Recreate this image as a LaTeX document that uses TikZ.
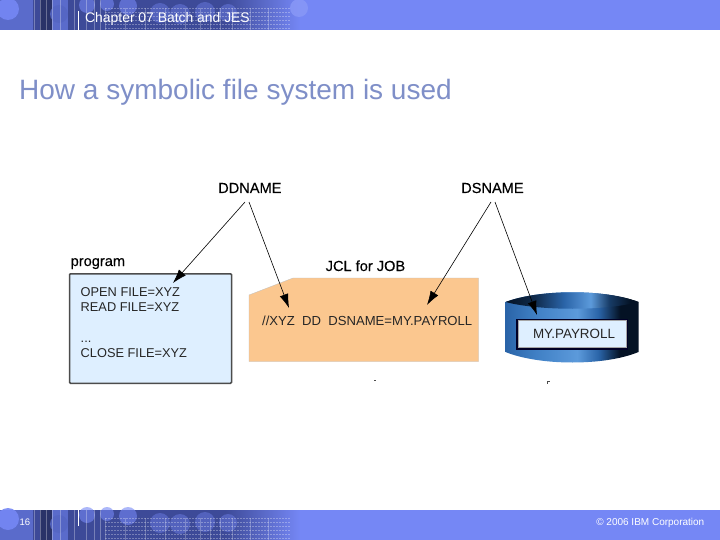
\documentclass[tikz,border=0pt]{standalone}
\usepackage{fontspec}
\setmainfont{Liberation Sans}
\newfontfamily\lblfont[FakeBold=0.2]{Liberation Sans}
\usetikzlibrary{arrows.meta}
\definecolor{barblue}{HTML}{7587F5}
\definecolor{bardark}{HTML}{3D4A98}
\definecolor{barmid}{HTML}{5566C4}
\definecolor{bardeep}{HTML}{2A3268}
\definecolor{titleblue}{HTML}{7F8FC8}
\definecolor{progfill}{HTML}{DEEFFF}
\definecolor{jclfill}{HTML}{FBC78F}
\definecolor{cyl}{HTML}{2A64A8}
\definecolor{cylmid}{HTML}{3F7FC4}
\definecolor{cyllight}{HTML}{5C9ADB}
\definecolor{cyldark}{HTML}{041224}
\pgfdeclarehorizontalshading{cylbody}{100bp}{color(0bp)=(cyl); color(25bp)=(cyl); color(36bp)=(cylmid); color(52bp)=(cyllight); color(60bp)=(cyl); color(68bp)=(cyldark); color(75bp)=(cyldark); color(100bp)=(cyldark)}
\pgfdeclarehorizontalshading{cyltop}{100bp}{color(0bp)=(cyldark); color(25bp)=(cyldark); color(36bp)=(cyldark!70!cyl); color(47bp)=(cyl); color(57bp)=(cyllight); color(64bp)=(cyl!50!cyldark); color(72bp)=(cyldark); color(100bp)=(cyldark)}
\tikzset{
  body/.style={inner sep=0pt,anchor=base west,font=\fontsize{12.8}{12.8}\selectfont,text=black!85},
  heading/.style={inner sep=0pt,anchor=base west,font=\lblfont\fontsize{14.6}{14.6}\selectfont},
  callout/.style={-{Latex[length=14pt,width=9pt]},line width=0.6pt,black},
  bartext/.style={inner sep=0pt,anchor=base west,text=white}
}
\newcommand{\bandart}[1]{%
 \begin{scope}[shift={(0,#1)}]
  \fill[barmid!85!barblue] (0,0) rectangle (100,30);
  \fill[bardark] (100,0) rectangle (225,30);
  \fill[left color=bardark,right color=barblue] (225,0) rectangle (300,30);
  \fill[bardark] (33,0) rectangle (52,30);
  \fill[bardeep] (40,0) rectangle (52,30);
  \fill[bardark] (68,0) rectangle (100,30);
  \fill[barmid,opacity=.9] (59,14) circle (9);
  \fill[barblue,opacity=.9] (8,9) circle (11);
  \fill[barblue,opacity=.6] (87,5) circle (8);
  \fill[barblue,opacity=.6] (107,4) circle (7);
  \fill[barblue,opacity=.6] (128,6) circle (9);
  \fill[barblue,opacity=.4] (160,13) circle (10);
  \fill[barblue,opacity=.4] (180,14) circle (10);
  \fill[barblue,opacity=.4] (205,12) circle (10);
  \fill[barblue,opacity=.4] (228,13) circle (9);
  \foreach \gx in {34,40,46,52,60,74,86,94,100} {\draw[white,opacity=.3,line width=.4pt] (\gx,0) -- (\gx,30);}
  \foreach \gx in {105,125,145,165,185,200,210,220,232,250,268} {\draw[white,opacity=.25,line width=.3pt] (\gx,8) -- (\gx,30);}
  \foreach \gy in {8,12,16,20,24,28} {\draw[white,opacity=.3,line width=.3pt,dash pattern=on 2pt off 1pt] (105,\gy) -- (290,\gy);}
 \end{scope}}
\begin{document}
\begin{tikzpicture}[x=1pt,y=-1pt]
\useasboundingbox (0,0) rectangle (720,540);
\fill[white] (0,0) rectangle (720,540);
% bands
\fill[barblue] (0,0) rectangle (720,30);
\fill[barblue] (0,510) rectangle (720,540);
\bandart{0}
\bandart{510}
\fill[barblue!85!white,opacity=.8] (299,8) circle (9);
\draw[white,line width=.7pt] (78.5,11) -- (78.5,30);
\draw[white,line width=.7pt] (78.5,510) -- (78.5,526);
\node[bartext,font=\fontsize{13.9}{13.9}\selectfont] (chap) at (85,23) {Chapter 07 Batch and JES};
\node[bartext,font=\fontsize{9.5}{9.5}\selectfont] (page) at (19.5,525) {16};
\node[bartext,font=\fontsize{10}{10}\selectfont,anchor=base east] (copy) at (704.5,525) {© 2006 IBM Corporation};
% title
\node[inner sep=0pt,anchor=base west,font=\fontsize{28}{28}\selectfont,text=titleblue] (title) at (19,99.7) {How a symbolic file system is used};
% program
\node[heading] (proglbl) at (70.5,266) {program};
\node[draw=black!70,line width=1.5pt,rounded corners=1pt,fill=progfill,minimum width=162pt,minimum height=109.5pt,inner sep=0pt] (prog) at (150.5,328.5) {};
\node[body] (p1) at (80.5,296) {OPEN FILE=XYZ};
\node[body] (p2) at (80.5,311) {READ FILE=XYZ};
\node[body] (p3) at (80.5,342) {...};
\node[body] (p4) at (80.5,357) {CLOSE FILE=XYZ};
% JCL
\node[heading] (jcllbl) at (325.5,271) {JCL for JOB};
\fill[jclfill,draw=black!25,line width=.3pt] (249,295) -- (293,278) -- (478.5,278) -- (478.5,361.5) -- (249,361.5) -- cycle;
\node[body,font=\fontsize{13.1}{13.1}\selectfont] (jcl) at (262,325) {//XYZ\ \ DD\ \ DSNAME=MY.PAYROLL};
% cylinder
\shade[shading=cylbody]
  (505.5,302) .. controls (540,289) and (605,289) .. (638.5,302) -- (638.5,352)
  .. controls (605,366) and (540,366) .. (505.5,352) -- cycle;
\shade[shading=cyltop]
  (505.5,302) .. controls (540,289) and (605,289) .. (638.5,302)
  .. controls (605,311) and (540,311) .. (505.5,302) -- cycle;
\fill[black!85!blue] (516,318.5) rectangle (628,349.5);
\node[draw=black!35,line width=.6pt,fill=progfill,minimum width=108pt,minimum height=27pt,inner sep=0pt] (frame) at (572.5,334) {};
\node[inner sep=0pt,anchor=base,font=\fontsize{13.4}{13.4}\selectfont,text=black!85] (mp) at (574,338) {MY.PAYROLL};
% labels with arrows
\node[heading] (dd) at (218,193) {DDNAME};
\node[heading] (ds) at (461,193) {DSNAME};
\coordinate (a1) at (245,202);
\coordinate (a2) at (249,202);
\coordinate (a3) at (491,202);
\coordinate (a4) at (495,202);
\coordinate (t1) at (173,283);
\coordinate (t2) at (289,308);
\coordinate (t3) at (427,305);
\coordinate (t4) at (537,315);
\draw[callout] (a1) -- (t1);
\draw[callout] (a2) -- (t2);
\draw[callout] (a3) -- (t3);
\draw[callout] (a4) -- (t4);
% specks
\fill[black!70] (374,380) rectangle (375.5,381);
\fill[black!70] (547,380.5) rectangle (548,383.5);
\fill[black!70] (547,380.5) rectangle (549.5,381.5);
\end{tikzpicture}
\end{document}
